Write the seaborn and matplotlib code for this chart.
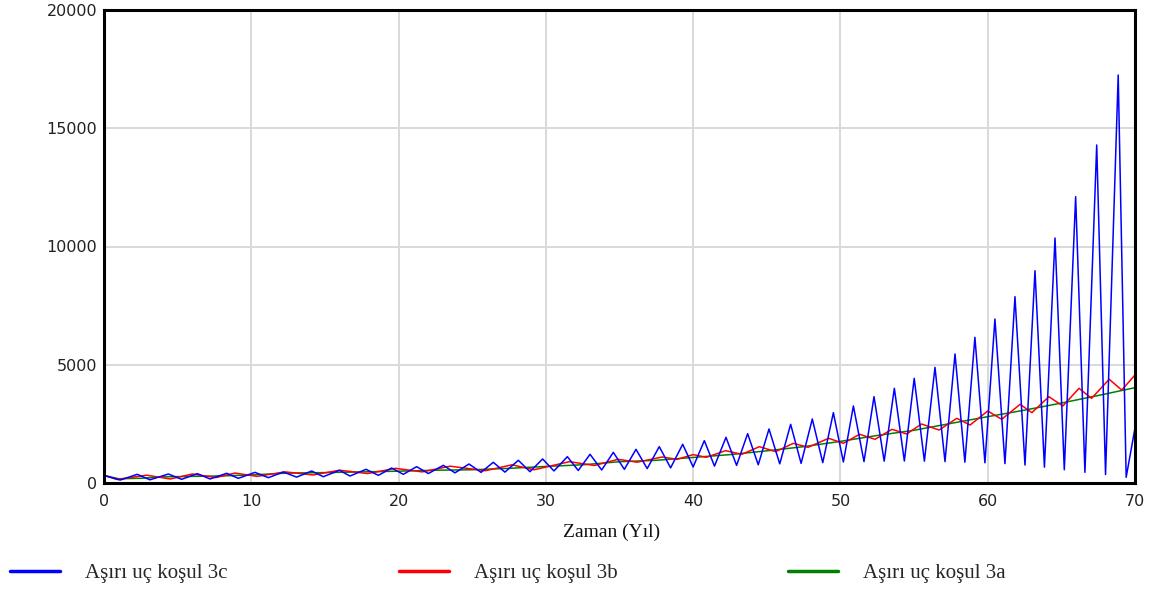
import numpy as np
import pandas as pd
import matplotlib
matplotlib.use("Agg")
import matplotlib.pyplot as plt
from matplotlib.lines import Line2D
import seaborn as sns

# ---------------- data ----------------
# Series 3c (blue): alternating extrema (time, value)
t_3c = [0.0, 1.1, 2.26, 3.12, 4.37, 5.27, 6.34, 7.2, 8.33, 9.12, 10.25, 11.16, 12.17, 13.08,
        14.1, 14.89, 15.98, 16.7, 17.79, 18.63, 19.53, 20.32, 21.23, 22.02, 23.04, 23.83,
        24.78, 25.6, 26.43, 27.22, 28.13, 28.92, 29.78, 30.55, 31.46, 32.2, 33.0, 33.79,
        34.58, 35.33, 36.12, 36.88, 37.7, 38.47, 39.29, 40.0, 40.76, 41.45, 42.23, 42.95,
        43.7, 44.42, 45.15, 45.88, 46.62, 47.33, 48.09, 48.8, 49.52, 50.2, 50.88, 51.6,
        52.28, 52.97, 53.66, 54.34, 55.01, 55.7, 56.42, 57.1, 57.78, 58.45, 59.13, 59.81,
        60.49, 61.17, 61.85, 62.53, 63.21, 63.85, 64.57, 65.2, 65.97, 66.6, 67.4, 68.0,
        68.86, 69.4, 70.0]
v_3c = [320, 125, 367, 135, 380, 155, 395, 170, 410, 197, 450, 225, 465, 250,
        507, 266, 536, 296, 578, 325, 634, 367, 690, 400, 747, 430,
        803, 450, 875, 460, 960, 479, 1015, 510, 1112, 530, 1213, 550,
        1297, 578, 1424, 610, 1536, 640, 1635, 680, 1790, 715, 1930, 745,
        2085, 770, 2283, 810, 2480, 830, 2706, 860, 2974, 890, 3256, 905,
        3650, 925, 4003, 930, 4426, 925, 4890, 905, 5455, 880, 6160, 855,
        6934, 820, 7878, 760, 8977, 670, 10360, 560, 12106, 450, 14292, 360,
        17252, 241, 2325]

# Series 3b (red): alternating extrema (time, value)
t_3b = [0.0, 0.9, 2.9, 4.5, 6.0, 7.6, 8.9, 10.4, 12.3, 14.2, 16.0, 17.9, 19.8, 21.6,
        23.5, 25.9, 27.7, 29.2, 31.6, 33.3, 34.9, 36.2, 37.9, 38.9, 40.0, 40.9, 42.2,
        43.3, 44.5, 45.6, 46.8, 47.8, 49.2, 50.2, 51.3, 52.35, 53.5, 54.5, 55.5, 56.7,
        57.9, 58.8, 60.0, 60.95, 62.2, 63.0, 64.15, 65.1, 66.2, 67.05, 68.25, 69.1, 70.0]
v_3b = [320, 150, 330, 170, 380, 230, 420, 280, 470, 340, 540, 400, 620, 470,
        710, 520, 770, 560, 902, 740, 1002, 880, 1100, 1000, 1200, 1087, 1367,
        1213, 1536, 1325, 1678, 1510, 1890, 1678, 2059, 1848, 2270, 2072, 2495, 2241,
        2735, 2452, 3044, 2693, 3327, 2974, 3650, 3256, 4003, 3580, 4384, 3932, 4567]

# Series 3a (green): smooth curve samples (time, value)
t_3a = [0, 1, 2.5, 4, 6, 8, 10, 12.5, 15, 17.5, 20, 22.5, 25, 27.5, 30, 32.5, 35,
        37.5, 40, 42.5, 45, 47.5, 50, 52.5, 55, 57.5, 60, 62.5, 65, 67.5, 70]
v_3a = [320, 180, 200, 260, 280, 300, 340, 420, 440, 470, 500, 540, 560, 620, 700,
        770, 900, 960, 1080, 1200, 1360, 1536, 1760, 2010, 2230, 2520, 2805, 3080,
        3380, 3700, 4030]

series_names = ["Aşırı uç koşul 3c", "Aşırı uç koşul 3b", "Aşırı uç koşul 3a"]
series_colors = ["#0000ff", "#ff0000", "#008000"]
x_ticks = [0, 10, 20, 30, 40, 50, 60, 70]
y_ticks = [0, 5000, 10000, 15000, 20000]
x_label = "Zaman (Yıl)"

# ---------------- figure ----------------
sns.set_theme(style="white")
plt.rcParams["font.family"] = ["DejaVu Sans"]

W, H = 1151, 592
fig = plt.figure(figsize=(W / 100, H / 100), dpi=100)
ax = fig.add_axes([104 / W, (H - 483) / H, (1135 - 104) / W, (483 - 10) / H])

frames = [
    pd.DataFrame({"t": t_3c, "v": v_3c, "s": series_names[0]}),
    pd.DataFrame({"t": t_3b, "v": v_3b, "s": series_names[1]}),
    pd.DataFrame({"t": t_3a, "v": v_3a, "s": series_names[2]}),
]
# draw green first, then red, then blue on top
for df, c in [(frames[2], series_colors[2]), (frames[1], series_colors[1]), (frames[0], series_colors[0])]:
    sns.lineplot(data=df, x="t", y="v", ax=ax, color=c, linewidth=1.1, legend=False,
                 estimator=None, sort=False)

ax.set_xlim(0, 70)
ax.set_ylim(0, 20000)
ax.set_xticks(x_ticks)
ax.set_yticks(y_ticks)
ax.set_xticklabels([str(v) for v in x_ticks])
ax.set_yticklabels([str(v) for v in y_ticks])
ax.tick_params(axis="both", length=0, labelsize=11.5, colors="#222222")
ax.tick_params(axis="x", pad=8)
ax.tick_params(axis="y", pad=5)
ax.grid(True, color="#d9d9d9", linewidth=1.4)
ax.set_axisbelow(True)
for sp in ax.spines.values():
    sp.set_color("black")
    sp.set_linewidth(2.2)

ax.set_ylabel("")
ax.set_xlabel(x_label, fontsize=14, family="Liberation Serif", color="#111111", va="top")
ax.xaxis.set_label_coords((612 - 104) / (1135 - 104), -0.085)

handles = [Line2D([0], [0], color=c, linewidth=2.5) for c in series_colors]
fs = 15
fig.legend(handles, series_names, loc="center left", bbox_to_anchor=(10 / W, 1 - 573 / H),
           ncol=3, frameon=False, borderpad=0, borderaxespad=0, handlelength=50 / (fs * 100 / 72),
           handletextpad=25 / (fs * 100 / 72), columnspacing=171 / (fs * 100 / 72),
           prop={"family": "Liberation Serif", "size": fs})

fig.savefig("out.png", dpi=100)
